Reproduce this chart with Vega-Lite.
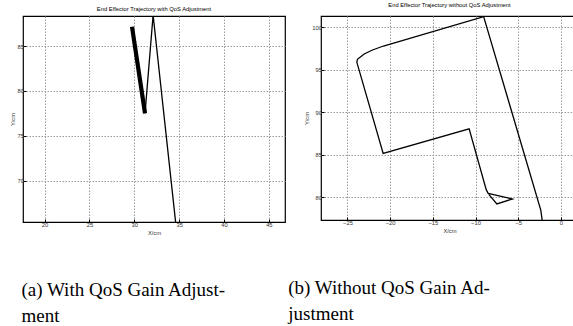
{
  "$schema": "https://vega.github.io/schema/vega-lite/v6.json",
  "padding": {"left": 8, "top": 1, "right": 0, "bottom": 0},
  "background": "white",
  "datasets": {
    "a": [
      {"phase": "oscillation", "i": 1, "x": 29.75, "y": 87.15},
      {"phase": "oscillation", "i": 2, "x": 31.2, "y": 77.5},
      {"phase": "transit", "i": 2, "x": 31.2, "y": 77.5},
      {"phase": "transit", "i": 3, "x": 32.1, "y": 88.45},
      {"phase": "transit", "i": 4, "x": 34.65, "y": 65.0}
    ],
    "b": [
      {"i": 1, "x": -2.15, "y": 77.0},
      {"i": 2, "x": -2.36, "y": 78.5},
      {"i": 3, "x": -9.05, "y": 101.25},
      {"i": 4, "x": -20.78, "y": 97.8},
      {"i": 5, "x": -22.07, "y": 97.33},
      {"i": 6, "x": -23.04, "y": 96.86},
      {"i": 7, "x": -23.83, "y": 96.24},
      {"i": 8, "x": -23.9, "y": 95.88},
      {"i": 9, "x": -20.82, "y": 85.17},
      {"i": 10, "x": -10.75, "y": 88.05},
      {"i": 11, "x": -8.75, "y": 80.9},
      {"i": 12, "x": -8.52, "y": 80.47},
      {"i": 13, "x": -5.68, "y": 79.8},
      {"i": 14, "x": -7.5, "y": 79.22},
      {"i": 15, "x": -8.45, "y": 80.35}
    ]
  },
  "config": {
    "view": {"stroke": "#000", "strokeWidth": 1.2},
    "axis": {
      "labelFont": "Liberation Sans", "labelFontSize": 5.8, "labelColor": "#333",
      "titleFont": "Liberation Sans", "titleFontSize": 5.8, "titleFontWeight": "normal", "titleColor": "#333",
      "grid": true, "gridColor": "#9a9a9a", "gridOpacity": 1, "gridDash": [1.5, 1.5], "gridWidth": 1,
      "domain": false, "ticks": true, "tickSize": -3, "tickColor": "#000", "tickWidth": 1,
      "labelPadding": 2.5, "titlePadding": 2
    },
    "title": {"font": "Liberation Sans", "fontSize": 5.8, "fontWeight": "normal", "color": "#000", "offset": 4}
  },
  "spacing": 2,
  "hconcat": [
    {
      "vconcat": [
        {
          "title": "End Effector Trajectory with QoS Adjustment",
          "width": 262, "height": 206,
          "data": {"name": "a"},
          "mark": {"type": "line", "clip": true, "color": "#000"},
          "encoding": {
            "x": {"field": "x", "type": "quantitative", "scale": {"domain": [17.6, 46.8], "nice": false, "zero": false}, "axis": {"title": "X/cm", "values": [20, 25, 30, 35, 40, 45]}},
            "y": {"field": "y", "type": "quantitative", "scale": {"domain": [65.4, 88.35], "nice": false, "zero": false}, "axis": {"title": "Y/cm", "values": [70, 75, 80, 85]}},
            "order": {"field": "i"},
            "strokeWidth": {"field": "phase", "type": "nominal", "scale": {"domain": ["oscillation", "transit"], "range": [4.2, 1.3]}, "legend": null}
          }
        }
      ],
      "title": {"text": ["(a) With QoS Gain Adjust-", "ment"], "orient": "bottom", "anchor": "start", "font": "Liberation Serif", "fontSize": 19, "lineHeight": 26, "offset": 45, "dx": 13, "color": "#000"}
    },
    {
      "vconcat": [
        {
          "title": {"text": "End Effector Trajectory without QoS Adjustment", "offset": 8},
          "width": 257, "height": 204,
          "data": {"name": "b"},
          "mark": {"type": "line", "clip": true, "color": "#000", "strokeWidth": 1.3},
          "encoding": {
            "x": {"field": "x", "type": "quantitative", "scale": {"domain": [-28.1, 2.0], "nice": false, "zero": false}, "axis": {"title": "X/cm", "values": [-25, -20, -15, -10, -5, 0]}},
            "y": {"field": "y", "type": "quantitative", "scale": {"domain": [77.33, 101.33], "nice": false, "zero": false}, "axis": {"title": "Y/cm", "values": [80, 85, 90, 95, 100]}},
            "order": {"field": "i"}
          }
        }
      ],
      "title": {"text": ["(b) Without QoS Gain Ad-", "justment"], "orient": "bottom", "anchor": "start", "font": "Liberation Serif", "fontSize": 19, "lineHeight": 26, "offset": 45, "dx": -15, "color": "#000"}
    }
  ]
}
